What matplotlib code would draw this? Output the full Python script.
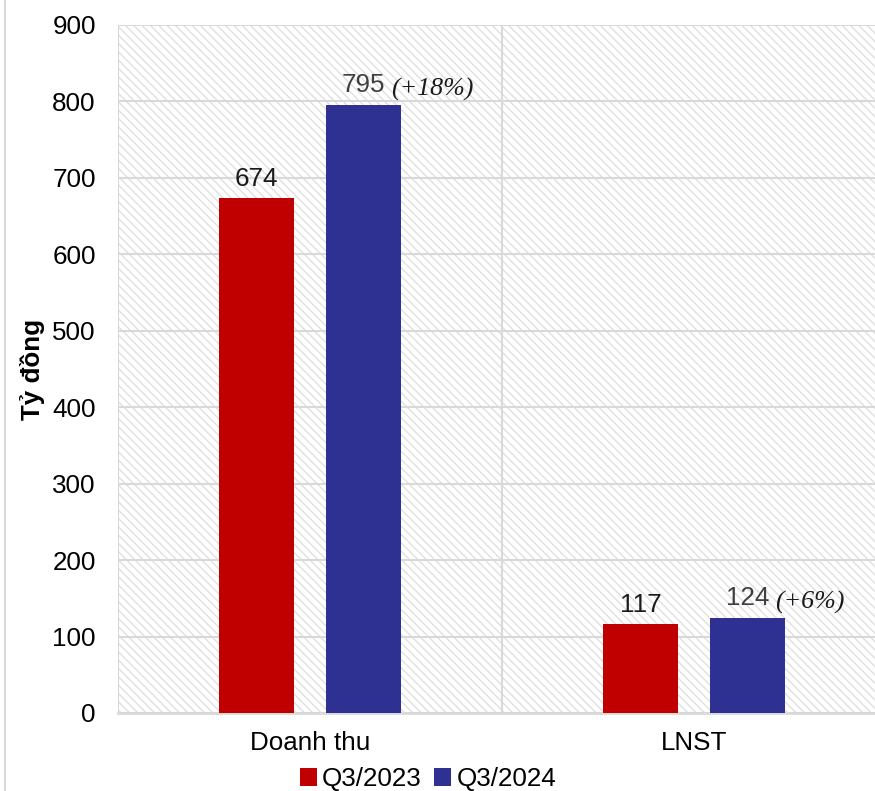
import matplotlib.pyplot as plt
from matplotlib.patches import Rectangle
from matplotlib.lines import Line2D
import numpy as np

plt.rcParams['font.family'] = ['Liberation Sans', 'DejaVu Sans']
plt.rcParams['hatch.linewidth'] = 1.0

# 数据
categories = ['Doanh thu', 'LNST']
series_names = ['Q3/2023', 'Q3/2024']
q3_2023 = [674, 117]
q3_2024 = [795, 124]
growth = ['(+18%)', '(+6%)']
y_ticks = [0, 100, 200, 300, 400, 500, 600, 700, 800, 900]

red = '#C00000'
blue = '#2E3192'
grid_c = '#d9d9d9'
fs = 18.7

fig = plt.figure(figsize=(8.75, 7.91), dpi=100)
ax = fig.add_axes([118 / 875, 1 - 713 / 791, 768 / 875, 688 / 791])

# 背景斜线
bg = Rectangle((0, 0), 1, 1, transform=ax.transAxes, facecolor='white',
               edgecolor='#e0e0e0', hatch='\\\\\\\\', linewidth=0, zorder=0)
ax.add_patch(bg)
ax.patch.set_visible(False)

x = np.arange(len(categories))
w = 0.195
off = 0.139
b1 = ax.bar(x - off, q3_2023, w, color=red, zorder=3, label=series_names[0])
b2 = ax.bar(x + off, q3_2024, w, color=blue, zorder=3, label=series_names[1])

ax.set_xlim(-0.5, 1.5)
ax.set_ylim(0, 900)
ax.set_yticks(y_ticks)
ax.set_xticks(x)
ax.set_xticklabels(categories)
ax.tick_params(axis='both', length=0, labelsize=fs, colors='black')
ax.tick_params(axis='y', pad=16)
ax.tick_params(axis='x', pad=13)

ax.grid(axis='y', color=grid_c, linewidth=1.5, zorder=1)
for xv in [-0.5, 0.5]:
    ax.axvline(xv, color=grid_c, linewidth=1.5, zorder=1)
for s in ['top', 'right', 'left']:
    ax.spines[s].set_visible(False)
ax.spines['bottom'].set_color(grid_c)
ax.spines['bottom'].set_linewidth(2)

ax.set_ylabel('Tỷ đồng', fontsize=fs, fontweight='bold', labelpad=5)

# 数据标签
for i in range(len(categories)):
    ax.annotate(str(q3_2023[i]), xy=(x[i] - off, q3_2023[i]), xytext=(0, 5),
                textcoords='offset points', ha='center', va='bottom',
                fontsize=fs, color='#1a1a1a')
    t = ax.annotate(str(q3_2024[i]), xy=(x[i] + off, q3_2024[i]), xytext=(0, 6),
                    textcoords='offset points', ha='center', va='bottom',
                    fontsize=fs, color='#404040')
    ax.annotate(growth[i], xy=(1, 0), xycoords=t, xytext=(4, -3),
                textcoords='offset points', ha='left', va='bottom',
                fontsize=fs, fontstyle='italic', family='Liberation Serif',
                color='#1a1a1a')

fig.legend(handles=[b1, b2], labels=series_names, loc='center',
           bbox_to_anchor=(428 / 875, 1 - 779 / 791), ncol=2, frameon=False,
           fontsize=fs, handlelength=0.65, handleheight=0.65,
           handletextpad=0.2, columnspacing=0.5)

# 左边框
fig.add_artist(Line2D([4.5 / 875, 4.5 / 875], [0, 1], color=grid_c, linewidth=1.5))

fig.savefig('out.png', dpi=100)
